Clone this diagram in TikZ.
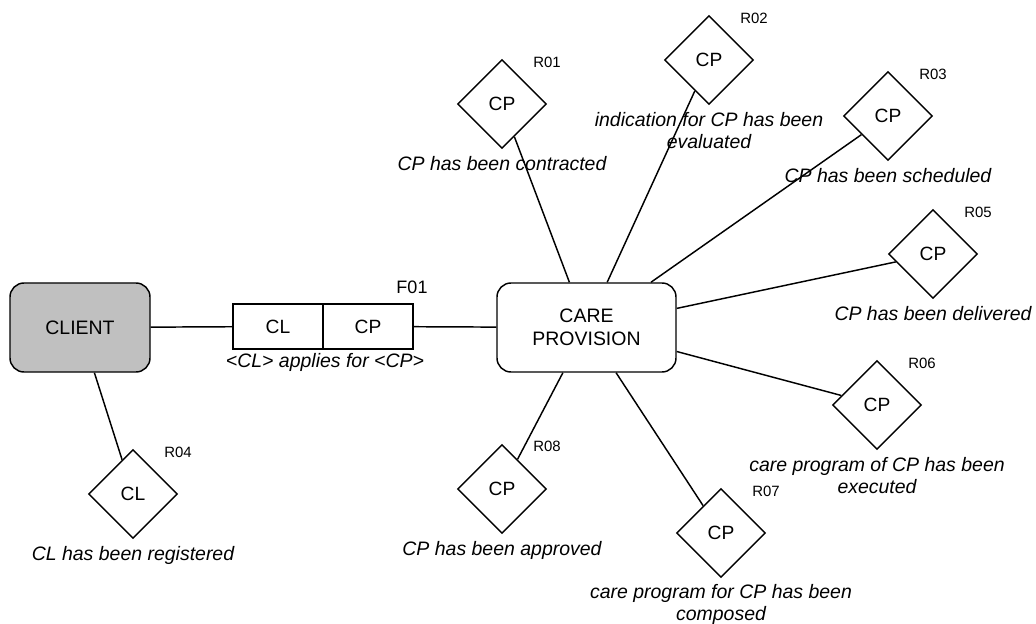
\documentclass[tikz,border=0pt]{standalone}
\usepackage{fontspec}
\setmainfont{Liberation Sans}
\usetikzlibrary{shapes.geometric}
\definecolor{clientgray}{HTML}{C0C0C0}

\begin{document}
\begin{tikzpicture}[x=0.75pt, y=-0.75pt, line width=1.1pt,
  objtype/.style={draw, rounded corners=10.5pt, minimum height=66.75pt, align=center, font=\fontsize{14.6}{17.5}\selectfont},
  factcell/.style={draw, minimum width=67.5pt, minimum height=33.75pt, font=\fontsize{14.4}{17}\selectfont},
  role/.style={draw, diamond, aspect=1, inner sep=0pt, minimum width=66.75pt, minimum height=66.75pt, font=\fontsize{14.4}{17}\selectfont},
  rcode/.style={font=\fontsize{11.2}{13}\selectfont},
  verb/.style={anchor=north, inner sep=0pt, align=center, font=\fontsize{14.6}{16.6}\selectfont\itshape}]
\useasboundingbox (0,0) rectangle (1036,624);
% object types and the fact type between them
\node[objtype, fill=clientgray, minimum width=105pt] (client) at (80,327.5) {CLIENT};
\node[objtype, minimum width=134.25pt] (care) at (586.5,327.5) {CARE\\PROVISION};
\node[factcell] (fcl) at (278,326.5) {CL}; \node[factcell] (fcp) at (368,326.5) {CP};
\node[rcode, font=\fontsize{13.5}{16}\selectfont] (f01) at (412,287) {F01}; \node[verb] (f01t) at (325,353) {<CL> applies for <CP>};
% roles
\node[role] (r01) at (502,104) {CP}; \node[rcode] (r01c) at (547,62) {R01}; \node[verb] (r01t) at (502,156) {CP has been contracted};
\node[role] (r02) at (709,60) {CP}; \node[rcode] (r02c) at (754,18) {R02}; \node[verb] (r02t) at (709,112) {indication for CP has been\\evaluated};
\node[role] (r03) at (888,116) {CP}; \node[rcode] (r03c) at (933,74) {R03}; \node[verb] (r03t) at (888,168) {CP has been scheduled};
\node[role] (r04) at (133,494) {CL}; \node[rcode] (r04c) at (178,452) {R04}; \node[verb] (r04t) at (133,546) {CL has been registered};
\node[role] (r05) at (933,254) {CP}; \node[rcode] (r05c) at (978,212) {R05}; \node[verb] (r05t) at (933,306) {CP has been delivered};
\node[role] (r06) at (877,405) {CP}; \node[rcode] (r06c) at (922,363) {R06}; \node[verb] (r06t) at (877,457) {care program of CP has been\\executed};
\node[role] (r07) at (721,533) {CP}; \node[rcode] (r07c) at (766,491) {R07}; \node[verb] (r07t) at (721,584) {care program for CP has been\\composed};
\node[role] (r08) at (502,489) {CP}; \node[rcode] (r08c) at (547,446) {R08}; \node[verb] (r08t) at (502,541) {CP has been approved};
% connectors
\draw (client) -- (fcl); \draw (fcp) -- (care); \draw (client) -- (r04);
\draw (care) -- (r01); \draw (care) -- (r02); \draw (care) -- (r03); \draw (care) -- (r05);
\draw (care) -- (r06); \draw (care) -- (r07); \draw (care) -- (r08);
\end{tikzpicture}
\end{document}
